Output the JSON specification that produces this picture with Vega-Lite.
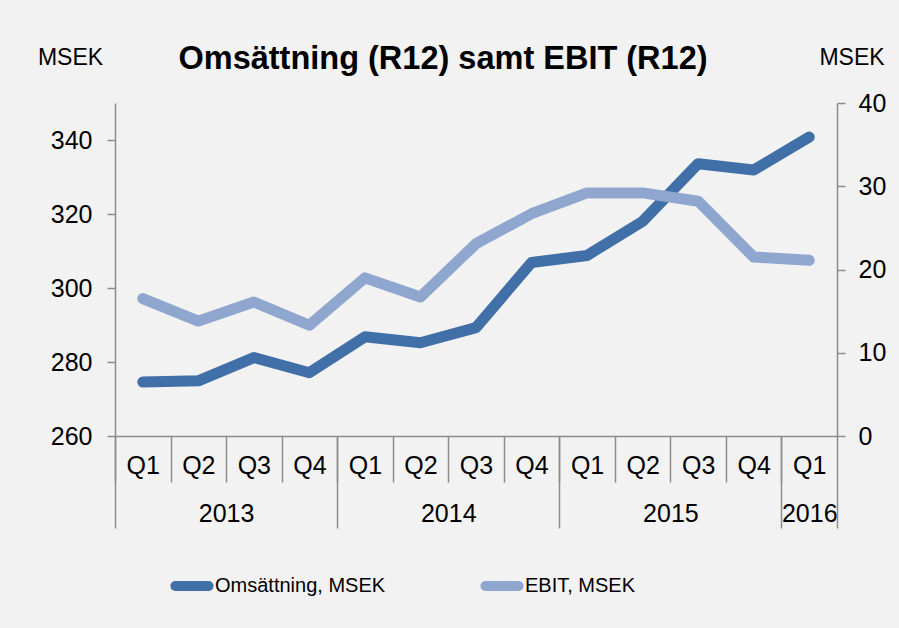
{
  "$schema": "https://vega.github.io/schema/vega-lite/v6.json",
  "width": 722,
  "height": 333,
  "autosize": {"type": "none"},
  "padding": {"left": 115, "top": 103, "right": 62, "bottom": 192},
  "background": "#f2f2f2",
  "title": {
    "text": "Omsättning (R12) samt EBIT (R12)",
    "font": "Liberation Sans",
    "fontSize": 32.5,
    "fontWeight": "bold",
    "color": "#000000",
    "anchor": "middle",
    "dx": -33,
    "dy": 39,
    "offset": 10
  },
  "config": {
    "view": {"stroke": null},
    "font": "Liberation Sans",
    "axis": {
      "domainColor": "#8c8c8c",
      "domainWidth": 1.5,
      "tickColor": "#8c8c8c",
      "tickWidth": 1.5,
      "labelColor": "#000000",
      "labelFont": "Liberation Sans",
      "labelFontSize": 25,
      "grid": false,
      "labelOverlap": false,
      "labelFlush": false,
      "labelBound": false
    }
  },
  "data": {
    "values": [
      {"i": 0, "series": "Omsättning, MSEK", "value": 274.6},
      {"i": 1, "series": "Omsättning, MSEK", "value": 274.9},
      {"i": 2, "series": "Omsättning, MSEK", "value": 281.2},
      {"i": 3, "series": "Omsättning, MSEK", "value": 277.1},
      {"i": 4, "series": "Omsättning, MSEK", "value": 286.8},
      {"i": 5, "series": "Omsättning, MSEK", "value": 285.2},
      {"i": 6, "series": "Omsättning, MSEK", "value": 289.3},
      {"i": 7, "series": "Omsättning, MSEK", "value": 306.9},
      {"i": 8, "series": "Omsättning, MSEK", "value": 308.8},
      {"i": 9, "series": "Omsättning, MSEK", "value": 318.0},
      {"i": 10, "series": "Omsättning, MSEK", "value": 333.6},
      {"i": 11, "series": "Omsättning, MSEK", "value": 331.9},
      {"i": 12, "series": "Omsättning, MSEK", "value": 340.8},
      {"i": 0, "series": "EBIT, MSEK", "value": 16.5},
      {"i": 1, "series": "EBIT, MSEK", "value": 13.8},
      {"i": 2, "series": "EBIT, MSEK", "value": 16.1},
      {"i": 3, "series": "EBIT, MSEK", "value": 13.3},
      {"i": 4, "series": "EBIT, MSEK", "value": 19.0},
      {"i": 5, "series": "EBIT, MSEK", "value": 16.7},
      {"i": 6, "series": "EBIT, MSEK", "value": 23.1},
      {"i": 7, "series": "EBIT, MSEK", "value": 26.7},
      {"i": 8, "series": "EBIT, MSEK", "value": 29.2},
      {"i": 9, "series": "EBIT, MSEK", "value": 29.2},
      {"i": 10, "series": "EBIT, MSEK", "value": 28.2},
      {"i": 11, "series": "EBIT, MSEK", "value": 21.5},
      {"i": 12, "series": "EBIT, MSEK", "value": 21.1}
    ]
  },
  "resolve": {
    "scale": {"y": "independent", "x": "independent"},
    "axis": {"x": "independent", "y": "independent"}
  },
  "layer": [
    {
      "transform": [{"filter": "datum.series === 'Omsättning, MSEK'"}],
      "mark": {"type": "line", "strokeWidth": 11, "strokeCap": "round", "strokeJoin": "round"},
      "encoding": {
        "x": {
          "field": "i", "type": "quantitative",
          "scale": {"domain": [-0.5, 12.5], "nice": false, "zero": false},
          "axis": {
            "orient": "bottom",
            "title": null,
            "values": [0,1,2,3,4,5,6,7,8,9,10,11,12],
            "labelExpr": "'Q' + ((datum.value % 4) + 1)",
            "tickSize": 46,
            "tickOffset": -27.77,
            "labelOffset": 27.77,
            "labelBaseline": "middle",
            "labelPadding": -17,
            "domain": true
          }
        },
        "y": {
          "field": "value", "type": "quantitative",
          "scale": {"domain": [260, 350], "nice": false, "zero": false},
          "axis": {
            "orient": "left",
            "values": [260, 280, 300, 320, 340],
            "tickSize": 8,
            "labelPadding": 15,
            "title": "MSEK",
            "titleAngle": 0,
            "titleX": -45,
            "titleY": -46,
            "titleAlign": "center",
            "titleBaseline": "middle",
            "titleFontSize": 23,
            "titleFontWeight": "normal",
            "titleColor": "#000000",
            "titleFont": "Liberation Sans"
          }
        },
        "color": {
          "field": "series", "type": "nominal",
          "scale": {"domain": ["Omsättning, MSEK", "EBIT, MSEK"], "range": ["#4170a8", "#8fa7cf"]},
          "legend": {
            "orient": "none",
            "legendX": 55,
            "legendY": 461,
            "direction": "horizontal",
            "title": null,
            "symbolType": "stroke",
            "symbolStrokeWidth": 10,
            "symbolSize": 1100,
            "labelFontSize": 20,
            "labelLimit": 400,
            "labelFont": "Liberation Sans",
            "labelColor": "#000000",
            "labelOffset": 1,
            "columnPadding": 79,
            "encode": {"symbols": {"update": {"strokeCap": {"value": "round"}}}}
          }
        }
      }
    },
    {
      "transform": [{"filter": "datum.series === 'EBIT, MSEK'"}],
      "mark": {"type": "line", "strokeWidth": 11, "strokeCap": "round", "strokeJoin": "round"},
      "encoding": {
        "x": {
          "field": "i", "type": "quantitative",
          "scale": {"domain": [-0.5, 12.5], "nice": false, "zero": false},
          "axis": {
            "orient": "bottom",
            "title": null,
            "values": [1.5, 5.5, 9.5, 12],
            "labelExpr": "datum.value < 4 ? '2013' : datum.value < 8 ? '2014' : datum.value < 11 ? '2015' : '2016'",
            "ticks": false,
            "domain": false,
            "labelBaseline": "middle",
            "labelPadding": 77
          }
        },
        "y": {
          "field": "value", "type": "quantitative",
          "scale": {"domain": [0, 40], "nice": false},
          "axis": {
            "orient": "right",
            "values": [0, 10, 20, 30, 40],
            "tickSize": 8,
            "labelPadding": 13,
            "title": "MSEK",
            "titleAngle": 0,
            "titleX": 14.5,
            "titleY": -46,
            "titleAlign": "center",
            "titleBaseline": "middle",
            "titleFontSize": 23,
            "titleFontWeight": "normal",
            "titleColor": "#000000",
            "titleFont": "Liberation Sans"
          }
        },
        "color": {"field": "series", "type": "nominal"}
      }
    },
    {
      "transform": [{"filter": "datum.series === 'EBIT, MSEK'"}],
      "mark": {"type": "point", "opacity": 0},
      "encoding": {
        "x": {
          "field": "i", "type": "quantitative",
          "scale": {"domain": [-0.5, 12.5], "nice": false, "zero": false},
          "axis": {
            "orient": "bottom",
            "title": null,
            "values": [-0.5, 3.5, 7.5, 11.5, 12.5],
            "labels": false,
            "domain": false,
            "tickSize": 92
          }
        },
        "y": {
          "field": "value", "type": "quantitative",
          "scale": {"domain": [0, 40], "nice": false},
          "axis": null
        }
      }
    }
  ]
}
